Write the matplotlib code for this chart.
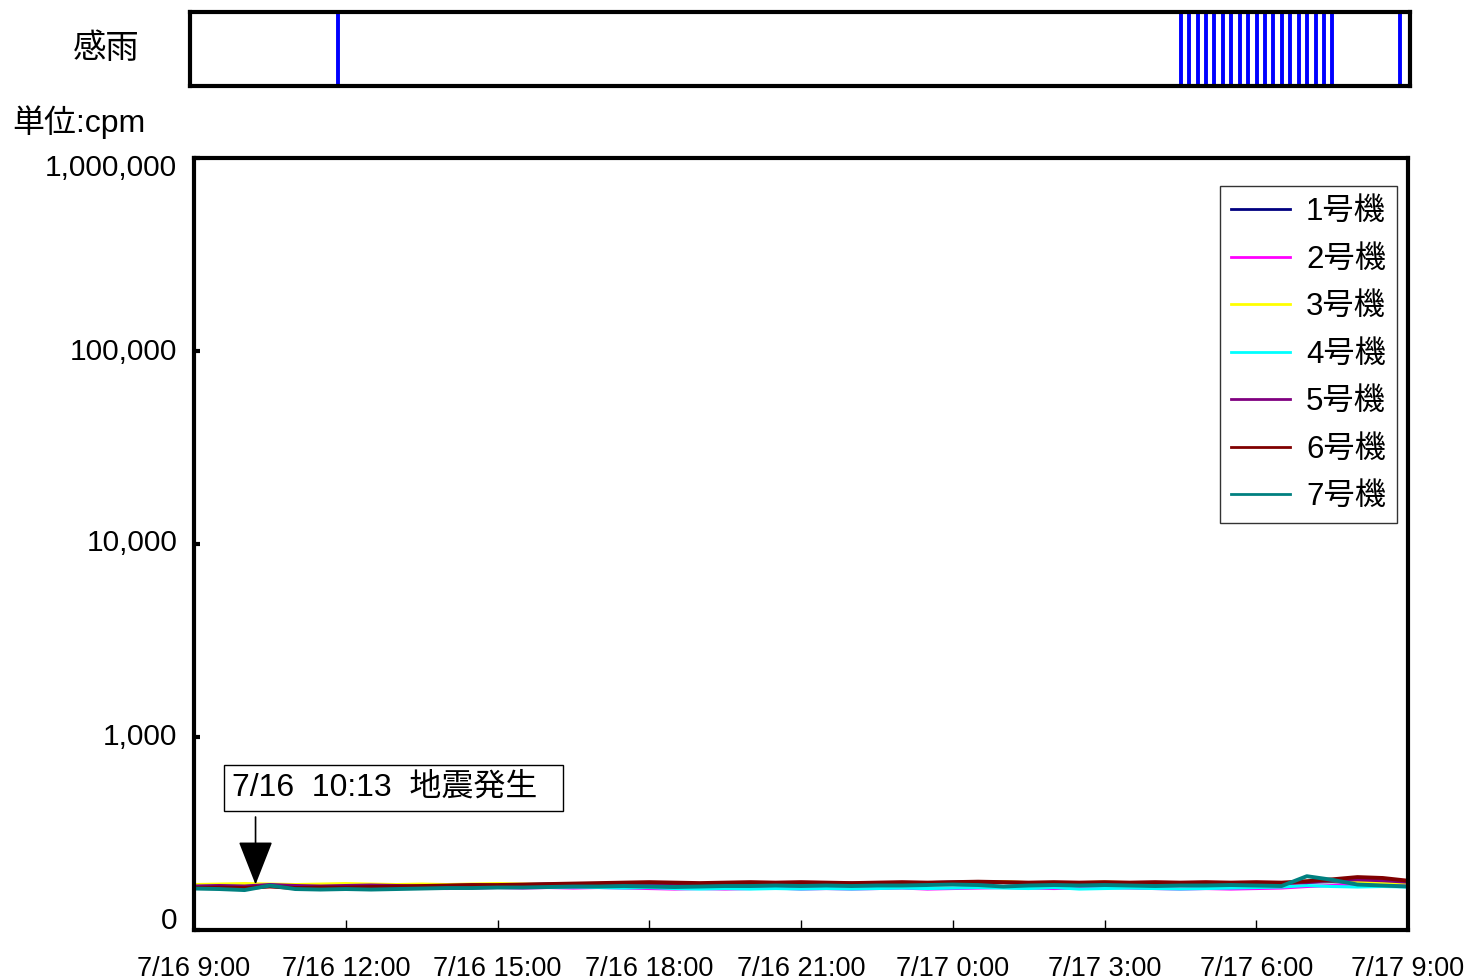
import matplotlib
matplotlib.use("Agg")
import matplotlib.pyplot as plt
import matplotlib.transforms as mtransforms
import pandas as pd

plt.rcParams['font.family'] = ['Liberation Sans', 'Noto Sans CJK JP']

# 30分ごとの指示値 (cpm)
times = pd.date_range('2007-07-16 09:00', '2007-07-17 09:00', freq='30min')

unit1 = [171, 172, 170, 172, 171, 170, 171, 172, 170, 171, 170, 172, 171, 172, 173, 172, 173,
         174, 173, 174, 173, 174, 173, 174, 173, 174, 175, 174, 175, 176, 177, 178, 177, 176,
         175, 174, 175, 176, 175, 174, 175, 174, 175, 174, 177, 178, 176, 175, 174]
unit2 = [166, 165, 167, 172, 166, 165, 164, 165, 166, 165, 164, 165, 166, 165, 166, 165, 166,
         165, 164, 163, 164, 163, 164, 165, 163, 164, 163, 164, 165, 163, 164, 165, 166, 165,
         164, 165, 166, 165, 164, 163, 164, 163, 164, 165, 168, 170, 172, 171, 170]
unit3 = [172, 173, 174, 173, 172, 173, 174, 173, 172, 173, 172, 173, 174, 173, 172, 173, 174,
         173, 172, 173, 172, 173, 172, 173, 174, 173, 172, 173, 174, 175, 176, 177, 178, 176,
         175, 176, 177, 176, 175, 174, 175, 176, 175, 174, 179, 180, 178, 176, 175]
unit4 = [168, 169, 168, 171, 168, 167, 168, 167, 168, 167, 166, 167, 168, 167, 166, 167, 166,
         165, 166, 164, 163, 164, 163, 164, 163, 164, 163, 164, 165, 164, 165, 166, 165, 164,
         166, 163, 164, 165, 164, 163, 164, 165, 166, 167, 170, 168, 167, 168, 167]
unit5 = [169, 170, 169, 172, 170, 169, 170, 171, 170, 169, 170, 171, 170, 171, 172, 171, 172,
         173, 174, 173, 172, 173, 172, 173, 172, 173, 172, 173, 174, 173, 174, 175, 176, 174,
         173, 174, 173, 174, 173, 172, 173, 174, 173, 174, 176, 181, 182, 180, 177]
unit6 = [165, 166, 165, 168, 165, 166, 166, 167, 168, 169, 170, 171, 171, 172, 173, 174, 175,
         176, 177, 176, 175, 176, 177, 176, 177, 176, 175, 176, 177, 176, 177, 178, 177, 176,
         177, 176, 177, 176, 177, 176, 177, 176, 177, 176, 179, 183, 188, 186, 180]
unit7 = [164, 163, 161, 170, 163, 162, 163, 162, 163, 164, 165, 165, 166, 166, 167, 168, 168,
         169, 168, 167, 168, 169, 169, 170, 169, 170, 169, 170, 170, 171, 172, 171, 168, 170,
         171, 170, 171, 170, 169, 170, 170, 171, 170, 169, 190, 182, 172, 170, 168]

labels = ['1号機', '2号機', '3号機', '4号機', '5号機', '6号機', '7号機']
colors = ['#000080', '#FF00FF', '#FFFF00', '#00FFFF', '#800080', '#800000', '#008080']
series = [unit1, unit2, unit3, unit4, unit5, unit6, unit7]

# 感雨の記録時刻
rain_times = pd.to_datetime([
    '2007-07-16 11:50',
    '2007-07-17 04:30', '2007-07-17 04:40', '2007-07-17 04:50', '2007-07-17 05:00',
    '2007-07-17 05:10', '2007-07-17 05:20', '2007-07-17 05:30', '2007-07-17 05:40',
    '2007-07-17 05:50', '2007-07-17 06:00', '2007-07-17 06:10', '2007-07-17 06:20',
    '2007-07-17 06:30', '2007-07-17 06:40', '2007-07-17 06:50', '2007-07-17 07:00',
    '2007-07-17 07:10', '2007-07-17 07:20', '2007-07-17 07:30',
    '2007-07-17 08:50',
])

quake_time = pd.Timestamp('2007-07-16 10:13')

xticks = pd.date_range('2007-07-16 09:00', '2007-07-17 09:00', freq='3h')
xticklabels = [f'{t.month}/{t.day} {t.hour}:00' for t in xticks]
yticks = [100, 1000, 10000, 100000, 1000000]
yticklabels = ['0', '1,000', '10,000', '100,000', '1,000,000']

W, H = 1472, 980
fig = plt.figure(figsize=(W / 100, H / 100), dpi=100)

# 感雨
ax_r = fig.add_axes([190 / W, 1 - 86 / H, 1220 / W, 74 / H])
for t in rain_times:
    ax_r.axvline(t, color='#0000FF', lw=2.8)
ax_r.set_xlim(times[0] - pd.Timedelta(minutes=5), times[-1] + pd.Timedelta(minutes=2))
ax_r.set_xticks([])
ax_r.set_yticks([])
for s in ax_r.spines.values():
    s.set_linewidth(3)
fig.text(106 / W, 1 - 49 / H, '感雨', fontsize=24, ha='center', va='center')
fig.text(12 / W, 1 - 122 / H, '単位:cpm', fontsize=23, ha='left', va='center')

# 指示値
ax = fig.add_axes([194 / W, 1 - 930 / H, 1214 / W, 772 / H])
for vals, lab, c in zip(series, labels, colors):
    lw = 2.8 if lab in ('6号機', '7号機') else 2.2
    ax.plot(times, vals, color=c, lw=lw, label=lab)

ax.set_yscale('log')
ax.set_ylim(100, 1000000)
ax.set_xlim(times[0], times[-1])
ax.set_yticks(yticks)
ax.set_yticklabels(yticklabels)
ax.minorticks_off()
ax.set_xticks(xticks)
ax.set_xticklabels(xticklabels)
ax.tick_params(axis='y', direction='in', length=4, width=3, labelsize=21.5, pad=12)
ax.tick_params(axis='x', direction='in', length=7, width=1, labelsize=19.5, pad=19)
for s in ax.spines.values():
    s.set_linewidth(3)

# Excel風のラベル位置ずれ (px, 上向き正)
y_shift = [12, 3, 4, 2, -7]
for dy, lbl in zip(y_shift, ax.get_yticklabels()):
    lbl.set_transform(lbl.get_transform() + mtransforms.ScaledTranslation(0, dy / 100, fig.dpi_scale_trans))

leg = ax.legend(loc='upper right', bbox_to_anchor=(1 - 11 / 1214, 1 - 28 / 772), fontsize=22.5,
                frameon=True, fancybox=False, edgecolor='black', handlelength=1.9,
                labelspacing=0.56, borderpad=0.35, handletextpad=0.5, borderaxespad=0)
leg.get_frame().set_linewidth(1)
for ln in leg.get_lines():
    ln.set_linewidth(2)

# 地震発生
ax.text(times[0] + pd.Timedelta(minutes=45), 545, '7/16  10:13  地震発生  ', fontsize=23,
        ha='left', va='center',
        bbox=dict(boxstyle='square,pad=0.24', fc='white', ec='black', lw=1))
ax.annotate('', xy=(quake_time, 172), xytext=(quake_time, 385),
            arrowprops=dict(arrowstyle='-|>,head_length=1.4,head_width=0.55', color='black',
                            lw=1.2, shrinkA=0, shrinkB=0, mutation_scale=20), zorder=5)

fig.savefig('out.png', dpi=100)
